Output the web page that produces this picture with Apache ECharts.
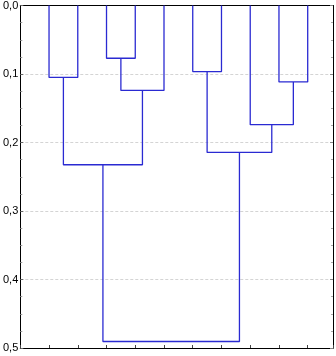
<!DOCTYPE html>
<html>
<head>
<meta charset="utf-8">
<script src="https://cdn.jsdelivr.net/npm/echarts@6/dist/echarts.min.js"></script>
<style>html,body{margin:0;padding:0;background:#fff;}#c{width:336px;height:356px;}</style>
</head>
<body>
<div id="c"></div>
<script>
// Leaves (positions 1..10 along the x axis)
const leafPositions = [1, 2, 3, 4, 5, 6, 7, 8, 9, 10];
// Merges: cluster ids 0..9 are leaves; merge k creates cluster 10+k
const mergeLeft   = [0, 2, 11, 10, 5, 8, 7, 14, 13];
const mergeRight  = [1, 3, 4, 12, 6, 9, 15, 16, 17];
const mergeHeight = [0.105, 0.077, 0.124, 0.2325, 0.0965, 0.1115, 0.174, 0.2145, 0.4905];
// Y axis tick labels
const yTicks = [0.0, 0.1, 0.2, 0.3, 0.4, 0.5];

const nodeX = leafPositions.slice();
const nodeH = leafPositions.map(() => 0);
const series = [];
for (let k = 0; k < mergeHeight.length; k++) {
  const l = mergeLeft[k], r = mergeRight[k], h = mergeHeight[k];
  series.push({
    type: 'line', symbol: 'none', silent: true, animation: false,
    lineStyle: { color: '#2a2ad2', width: 1.3 },
    data: [[nodeX[l], nodeH[l]], [nodeX[l], h], [nodeX[r], h], [nodeX[r], nodeH[r]]]
  });
  nodeX.push((nodeX[l] + nodeX[r]) / 2);
  nodeH.push(h);
}

const chart = echarts.init(document.getElementById('c'), null, { renderer: 'canvas' });
chart.setOption({
  animation: false,
  backgroundColor: '#fff',
  grid: { left: 17.5, right: 3, top: 4, bottom: 8, containLabel: false },
  xAxis: [
    { type: 'value', min: 0, max: 10.88, interval: 1, position: 'bottom',
      axisLine: { show: true, onZero: false, lineStyle: { color: '#000', width: 1 } },
      axisTick: { show: true, inside: true, length: 3, lineStyle: { color: '#444' } },
      axisLabel: { show: false }, splitLine: { show: false } },
    { type: 'value', min: 0, max: 10.88, interval: 1, position: 'top',
      axisLine: { show: true, onZero: false, lineStyle: { color: '#000', width: 1 } },
      axisTick: { show: false }, axisLabel: { show: false }, splitLine: { show: false } }
  ],
  yAxis: [
    { type: 'value', min: yTicks[0], max: yTicks[yTicks.length - 1], interval: 0.1, inverse: true,
      position: 'left',
      axisLine: { show: true, onZero: false, lineStyle: { color: '#000', width: 1 } },
      axisTick: { show: true, inside: true, length: 3, lineStyle: { color: '#666' } },
      minorTick: { show: true, splitNumber: 4, length: 2, lineStyle: { color: '#999' } },
      axisLabel: { show: true, margin: 2, color: '#000', fontSize: 11, fontFamily: 'Liberation Sans, Arial, sans-serif',
        formatter: v => v.toFixed(1).replace('.', ',') },
      splitLine: { show: true, lineStyle: { color: '#d4d4d4', type: [3, 2], width: 1 } } },
    { type: 'value', min: yTicks[0], max: yTicks[yTicks.length - 1], interval: 0.1, inverse: true,
      position: 'right',
      axisLine: { show: true, onZero: false, lineStyle: { color: '#000', width: 1 } },
      axisTick: { show: true, inside: true, length: 3, lineStyle: { color: '#888' } },
      minorTick: { show: true, splitNumber: 4, length: 2, lineStyle: { color: '#aaa' } },
      axisLabel: { show: false }, splitLine: { show: false } }
  ],
  series: series
});
</script>
</body>
</html>
